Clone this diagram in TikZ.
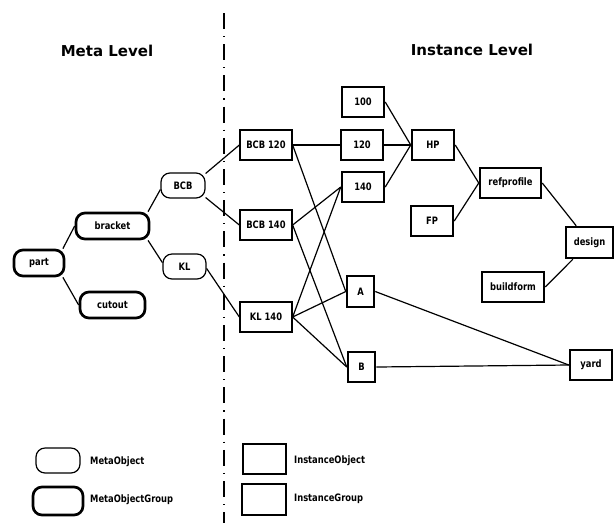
\documentclass[tikz,border=0pt]{standalone}
\usepackage{fontspec}
\setmainfont{DejaVu Sans}
\newfontfamily\lblfont[FakeStretch=0.82]{DejaVu Sans}
\begin{document}
\begin{tikzpicture}[x=1pt,y=-1pt,
  lbl/.style={font=\lblfont\bfseries\fontsize{10.2}{11}\selectfont},
  heading/.style={font=\bfseries\fontsize{15}{18}\selectfont},
  metaobj/.style={draw, rounded corners=9pt, line width=1.2pt, minimum height=25pt, inner sep=0pt, lbl},
  metagrp/.style={metaobj, line width=2.7pt},
  instobj/.style={draw, line width=1.3pt, minimum height=30pt, inner sep=0pt, lbl},
  instgrp/.style={instobj, line width=2.5pt},
  link/.style={line width=1.2pt},
  divider/.style={line width=1.2pt, dash pattern=on 16pt off 7pt on 1.2pt off 7pt},
  legendtext/.style={lbl, anchor=west, inner sep=0pt}
]
\useasboundingbox (0,0) rectangle (615,523);

% level headings and the separating line
\node[heading] (hmeta) at (107,51) {Meta Level};
\node[heading] (hinst) at (472,50) {Instance Level};
\coordinate (divtop) at (224,13);
\coordinate (divbot) at (224,523);
\draw[divider] (divtop) -- (divbot);

% meta level
\node[metagrp, minimum width=50pt, minimum height=26pt] (part) at (39,263) {part};
\node[metagrp, minimum width=73pt, minimum height=26pt] (bracket) at (112.5,226) {bracket};
\node[metagrp, minimum width=65pt, minimum height=26pt] (cutout) at (112.5,305) {cutout};
\node[metaobj, minimum width=44pt] (BCB) at (183,185.5) {BCB};
\node[metaobj, minimum width=43pt] (KL) at (184.5,266.5) {KL};

% instance level
\node[instobj, minimum width=52pt] (bcb120) at (266,145) {BCB 120};
\node[instobj, minimum width=52pt] (bcb140) at (266,225) {BCB 140};
\node[instobj, minimum width=52pt] (kl140) at (266,317) {KL 140};
\node[instgrp, minimum width=42pt] (n100) at (363,102) {100};
\node[instgrp, minimum width=42pt] (n120) at (362,145) {120};
\node[instgrp, minimum width=42pt] (n140) at (363,187) {140};
\node[instgrp, minimum width=42pt] (HP) at (433,145) {HP};
\node[instgrp, minimum width=42pt] (FP) at (432,221) {FP};
\node[instgrp, minimum width=61pt] (refprofile) at (510.5,183) {refprofile};
\node[instgrp, minimum width=47pt, minimum height=31pt] (design) at (589.5,242.5) {design};
\node[instgrp, minimum width=62pt] (buildform) at (513,287) {buildform};
\node[instgrp, minimum width=27pt, minimum height=31pt] (A) at (360.5,291.5) {A};
\node[instgrp, minimum width=27pt] (B) at (361.5,367) {B};
\node[instgrp, minimum width=42pt] (yard) at (591,365) {yard};

% meta level links
\draw[link] (part.31) -- (bracket.west);
\draw[link] (part.-31) -- (cutout.west);
\draw[link] (bracket.22) -- (BCB.190);
\draw[link] (bracket.-22) -- (KL.170);
\draw[link] (BCB.28) -- (bcb120.west);
\draw[link] (BCB.-28) -- (bcb140.west);
\draw[link] (KL.-5) -- (kl140.west);

% instance level links
\draw[link] (bcb120.east) -- (n120.west);
\draw[link] (bcb120.east) -- (A.west);
\draw[link] (bcb140.east) -- (n140.west);
\draw[link] (bcb140.east) -- (B.west);
\draw[link] (kl140.east) -- (n140.west);
\draw[link] (kl140.east) -- (A.west);
\draw[link] (kl140.east) -- (B.west);
\draw[link] (n100.east) -- (HP.west);
\draw[link] (n120.east) -- (HP.west);
\draw[link] (n140.east) -- (HP.west);
\draw[link] (HP.east) -- (refprofile.west);
\draw[link] (FP.east) -- (refprofile.west);
\draw[link] (refprofile.east) -- (design);
\draw[link] (buildform.east) -- (design);
\draw[link] (A.east) -- (yard.west);
\draw[link] (B.east) -- (yard.west);

% legend
\node[metaobj, minimum width=44pt] (lgmeta) at (58,460.5) {};
\node[legendtext] (lgmetatxt) at (90,461.5) {MetaObject};
\node[metagrp, minimum width=50pt, minimum height=28pt] (lgmetagrp) at (58,501) {};
\node[legendtext] (lgmetagrptxt) at (90,499.5) {MetaObjectGroup};
\node[instobj, minimum width=43pt] (lginst) at (264.5,459) {};
\node[legendtext] (lginsttxt) at (294,460.5) {InstanceObject};
\node[instgrp, minimum width=44pt, minimum height=31pt] (lginstgrp) at (264,499.5) {};
\node[legendtext] (lginstgrptxt) at (294,498.5) {InstanceGroup};
\end{tikzpicture}
\end{document}
